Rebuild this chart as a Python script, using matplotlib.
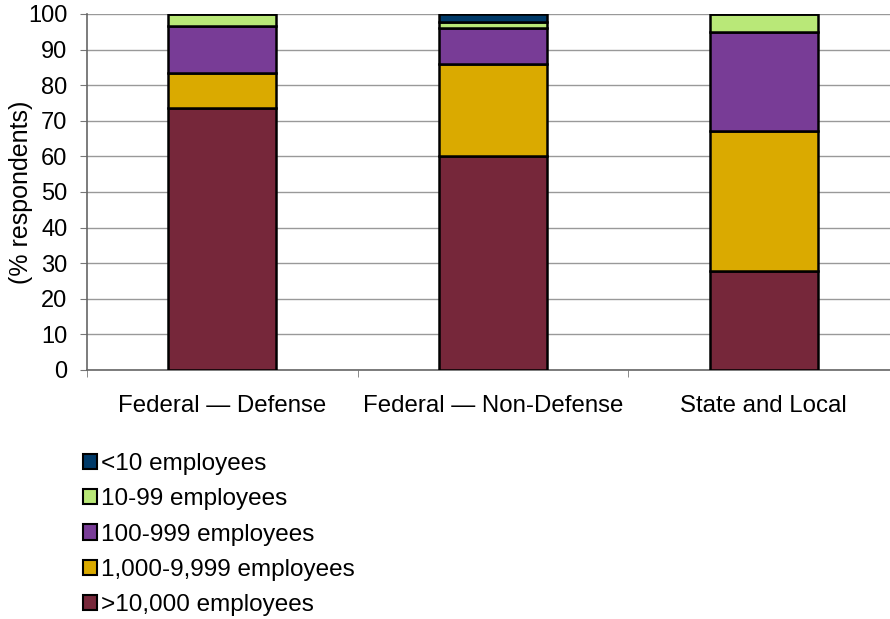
import numpy as np
import matplotlib
matplotlib.use("Agg")
import matplotlib.pyplot as plt
from matplotlib.patches import Patch

plt.rcParams['font.family'] = ['Liberation Sans', 'DejaVu Sans']

categories = ['Federal \u2014 Defense', 'Federal \u2014 Non-Defense', 'State and Local']
series_names = ['>10,000 employees', '1,000-9,999 employees', '100-999 employees',
                '10-99 employees', '<10 employees']
over10000 = [73.6, 60.1, 27.8]
k1_10 = [9.8, 25.9, 39.3]
h100_999 = [13.2, 10.0, 27.9]
t10_99 = [3.4, 1.7, 5.0]
under10 = [0.0, 2.3, 0.0]
colors = ['#76273A', '#DAAA00', '#783C96', '#B9E878', '#003A68']

series = [over10000, k1_10, h100_999, t10_99, under10]

fig = plt.figure(figsize=(8.9, 6.19), dpi=100)
ax = fig.add_axes([87/890, 1-370/619, (899-87)/890, (370-14)/619])

x = np.arange(len(categories))
bottom = np.zeros(len(categories))
for vals, c, name in zip(series, colors, series_names):
    vals = np.array(vals)
    ax.bar(x, vals, width=0.4, bottom=bottom, color=c, edgecolor='black',
           linewidth=1.8, label=name, zorder=3)
    bottom += vals

ax.set_xlim(-0.5, 2.5)
ax.set_ylim(0, 100)
ax.set_yticks(np.arange(0, 101, 10))
ax.yaxis.grid(True, color='#999999', linewidth=1, zorder=0)
ax.set_xticks(x)
ax.set_xticklabels(categories, fontsize=17.3)
ax.tick_params(axis='x', length=0, pad=18)
ax.set_xticks([-0.5, 0.5, 1.5, 2.5], minor=True)
ax.tick_params(axis='x', which='minor', length=5, color='#777777')
ax.tick_params(axis='y', labelsize=17, length=5, color='#777777', pad=9)
ax.set_ylabel('(% respondents)', fontsize=18)
ax.yaxis.set_label_coords(-0.067, 0.5)
for s in ['top', 'right']:
    ax.spines[s].set_visible(False)
for s in ['left', 'bottom']:
    ax.spines[s].set_color('#666666')
    ax.spines[s].set_linewidth(1.2)

handles = [Patch(facecolor=c, edgecolor='black', linewidth=1.5) for c in colors[::-1]]
fig.legend(handles, series_names[::-1], loc='upper left',
           bbox_to_anchor=(61/890, 1-431/619), frameon=False, fontsize=17.5,
           handlelength=0.6, handleheight=0.6, handletextpad=0.15,
           labelspacing=0.55)

fig.savefig('out.png', dpi=100)
